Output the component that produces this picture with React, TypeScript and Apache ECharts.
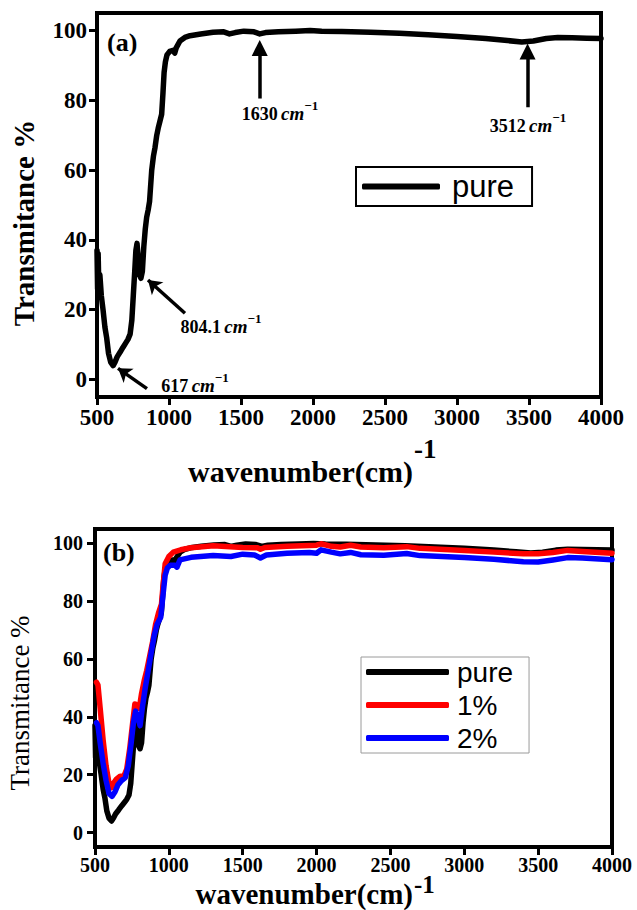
import React, { useEffect, useRef } from 'react';
import * as echarts from 'echarts';

const SERIF = 'Liberation Serif, Times New Roman, serif';
const SANS = 'Liberation Sans, Arial, sans-serif';

const X_MIN = 500;
const X_MAX = 4000;
const X_STEP = 500;
const Y_MIN = -5;
const Y_MAX = 105;
const Y_TICKS = [0, 20, 40, 60, 80, 100];

const seriesNames = ['pure', '1%', '2%'];
const seriesColors = ['#000000', '#ff0000', '#0000ff'];

const pureData = [
  [500, 37], [504, 26], [508, 36], [512, 28], [520, 30], [530, 24], [542, 20], [555, 15], [567, 12],
  [580, 7.5], [595, 5], [612, 4], [625, 5], [640, 6.5], [660, 7.8], [680, 9.2], [700, 10.5], [715, 11.5],
  [730, 13], [742, 17], [752, 24], [762, 31], [770, 37], [778, 39], [786, 35], [795, 30], [805, 29],
  [815, 31], [825, 38], [835, 43], [845, 46.5], [855, 48.5], [865, 51], [880, 60], [892, 64], [903, 66.5],
  [915, 70], [925, 72], [937, 74], [949, 76], [958, 82], [966, 88], [975, 91], [986, 93], [1005, 94],
  [1028, 94.3], [1040, 93.5], [1050, 95], [1076, 97], [1110, 98], [1146, 98.5], [1220, 99], [1306, 99.5],
  [1380, 99.6], [1420, 99], [1460, 99.4], [1520, 99.8], [1590, 99.6], [1630, 99], [1670, 99.4],
  [1760, 99.6], [1880, 99.8], [1980, 100], [2060, 99.8], [2200, 99.7], [2400, 99.5], [2600, 99.2],
  [2800, 98.8], [3000, 98.3], [3200, 97.7], [3350, 97.1], [3450, 96.7], [3530, 97], [3620, 97.7],
  [3700, 98], [3800, 97.9], [3900, 97.8], [4000, 97.7],
];

const onePctData = [
  [510, 52], [520, 51], [535, 43], [555, 32], [575, 23], [595, 17], [610, 15.5], [625, 17], [645, 18.5],
  [670, 19.5], [695, 19.5], [715, 22], [735, 29], [755, 38], [770, 44.5], [785, 44], [800, 43], [815, 48],
  [835, 53], [850, 56], [870, 61], [890, 66], [910, 72], [930, 76], [950, 79], [960, 85], [975, 93],
  [1000, 95.5], [1030, 97], [1080, 97.8], [1150, 98.5], [1300, 99.2], [1500, 98.6], [1600, 98.5],
  [1620, 98], [1650, 98.6], [1800, 99], [2000, 99.4], [2030, 99.9], [2100, 99], [2160, 98.8],
  [2230, 99.4], [2300, 98.8], [2455, 98.5], [2610, 98.9], [2700, 98.3], [3000, 97.6], [3200, 97],
  [3400, 96.4], [3500, 96.4], [3600, 96.9], [3700, 97.6], [3800, 97.2], [4000, 96.6],
];

const twoPctData = [
  [510, 38], [520, 37], [535, 31], [555, 24], [575, 18], [595, 13.5], [615, 12.5], [635, 14], [655, 16.5],
  [680, 18], [705, 19], [725, 23], [745, 31], [760, 38], [775, 42], [790, 40], [805, 37], [820, 43],
  [840, 50], [860, 56], [880, 62], [900, 68], [920, 72], [945, 74.5], [960, 82], [975, 89], [990, 91.5],
  [1010, 92.5], [1040, 92.5], [1055, 91.8], [1075, 94.3], [1150, 95.2], [1300, 95.8], [1420, 95.5],
  [1500, 96.3], [1580, 96], [1620, 95], [1660, 96], [1800, 96.6], [1950, 96.9], [2000, 96.6],
  [2030, 97.8], [2100, 97], [2160, 96.4], [2230, 96.9], [2300, 96.1], [2455, 95.9], [2610, 96.5],
  [2700, 95.8], [3000, 95.1], [3200, 94.5], [3400, 93.7], [3500, 93.6], [3600, 94.3], [3700, 95.1],
  [3800, 95], [4000, 94.4],
];

// annotation arrows (data coordinates): from tail to head
const arrowTails = [[1630, 80.5], [3490, 78], [1111, 19], [847, -2.6]];
const arrowHeads = [[1630, 95], [3490, 94], [854, 28.5], [646, 3.2]];
const arrowSymbols = ['triangle', 'triangle', 'arrow', 'arrow'];
const arrowSizes = [16, 16, 13, 13];

// peak labels
const peakNumbers = ['1630', '3512', '804.1', '617'];
const peakLabelAt = [[1771, 77], [3493, 73.6], [1361, 16], [1181, -1.1]];

function xAxisCfg(gridIndex: number, fontSize: number, margin: number) {
  return {
    type: 'value',
    gridIndex,
    min: X_MIN,
    max: X_MAX,
    interval: X_STEP,
    axisLine: { show: true, onZero: false, lineStyle: { color: '#000', width: 4 } },
    axisTick: { show: true, inside: false, length: 8, lineStyle: { color: '#000', width: 3 } },
    axisLabel: {
      show: true, color: '#000', fontFamily: SERIF, fontWeight: 'bold', fontSize, margin,
      showMinLabel: true, showMaxLabel: true, formatter: (v: number) => String(v),
    },
    splitLine: { show: false },
    minorTick: { show: false },
  };
}

function yAxisCfg(gridIndex: number, fontSize: number, margin: number) {
  return {
    type: 'value',
    gridIndex,
    min: Y_MIN,
    max: Y_MAX,
    axisLine: { show: true, onZero: false, lineStyle: { color: '#000', width: 4 } },
    axisTick: { show: true, inside: false, length: 8, customValues: Y_TICKS, lineStyle: { color: '#000', width: 3 } },
    axisLabel: {
      show: true, color: '#000', fontFamily: SERIF, fontWeight: 'bold', fontSize, margin,
      customValues: Y_TICKS, formatter: (v: number) => String(v),
    },
    splitLine: { show: false },
  };
}

const peakRich = {
  n: { fontFamily: SERIF, fontWeight: 'bold', fontSize: 18, lineHeight: 24, color: '#000', verticalAlign: 'bottom' },
  i: { fontFamily: SERIF, fontStyle: 'italic', fontWeight: 'bold', fontSize: 19, lineHeight: 24, color: '#000', verticalAlign: 'bottom' },
  s: { fontFamily: SERIF, fontWeight: 'bold', fontSize: 13, lineHeight: 10, color: '#000', verticalAlign: 'top' },
};

export default function App() {
  const ref = useRef<HTMLDivElement>(null);

  useEffect(() => {
    if (!ref.current) return;
    const chart = echarts.init(ref.current, null, { renderer: 'svg' });

    const lineSeries = (name: string, data: number[][], color: string, gi: number, extra: any = {}) => ({
      type: 'line',
      name,
      xAxisIndex: gi,
      yAxisIndex: gi,
      data,
      symbol: 'none',
      showSymbol: false,
      smooth: false,
      lineStyle: { color, width: 5.5, join: 'round', cap: 'round' },
      itemStyle: { color },
      emphasis: { disabled: true },
      z: 3,
      ...extra,
    });

    const markLine = {
      silent: true,
      animation: false,
      label: { show: false },
      lineStyle: { color: '#000', width: 3.5, type: 'solid' },
      data: arrowTails.map((t, k) => [
        { coord: t, symbol: 'none' },
        { coord: arrowHeads[k], symbol: arrowSymbols[k], symbolSize: arrowSizes[k] },
      ]),
    };

    const markPoint = {
      silent: true,
      animation: false,
      symbol: 'circle',
      symbolSize: 0,
      itemStyle: { color: 'transparent' },
      data: peakNumbers.map((n, k) => ({
        coord: peakLabelAt[k],
        label: {
          show: true,
          position: 'inside',
          formatter: `{n|${n}} {i|cm}{s|\u22121}`,
          rich: peakRich,
        },
      })),
    };

    const titleText = (x: number, y: number, supY: number, size: number, supSize: number) => [
      { type: 'text', x, y, style: { text: 'wavenumber(cm)', fontFamily: SERIF, fontWeight: 'bold', fontSize: size, fill: '#000', align: 'right', verticalAlign: 'middle' } },
      { type: 'text', x: x + 1, y: supY, style: { text: '-1', fontFamily: SERIF, fontWeight: 'bold', fontSize: supSize, fill: '#000', align: 'left', verticalAlign: 'middle' } },
    ];

    const option: any = {
      animation: false,
      backgroundColor: '#ffffff',
      grid: [
        { left: 97, top: 13, width: 504, height: 384, show: true, borderColor: '#000', borderWidth: 4, outerBoundsMode: 'none', containLabel: false },
        { left: 95, top: 529, width: 517, height: 318, show: true, borderColor: '#000', borderWidth: 4, outerBoundsMode: 'none', containLabel: false },
      ],
      xAxis: [xAxisCfg(0, 23, 9), xAxisCfg(1, 20, 8)],
      yAxis: [yAxisCfg(0, 23, 10), yAxisCfg(1, 20, 12)],
      legend: [
        {
          data: [{ name: seriesNames[0], icon: 'roundRect' }],
          left: 356,
          top: 167,
          orient: 'horizontal',
          itemWidth: 78,
          itemHeight: 6,
          padding: [4, 18, 4, 6],
          borderColor: '#000',
          borderWidth: 2,
          backgroundColor: '#fff',
          selectedMode: false,
          textStyle: { fontFamily: SANS, fontSize: 31, color: '#000', padding: [0, 0, 0, 7] },
        },
        {
          data: seriesNames.map((n) => ({ name: n, icon: 'roundRect' })),
          left: 361,
          top: 657,
          orient: 'vertical',
          itemWidth: 83,
          itemHeight: 6,
          itemGap: 5,
          padding: [1, 16, 1, 5],
          borderColor: '#9a9a9a',
          borderWidth: 1,
          backgroundColor: '#fff',
          selectedMode: false,
          textStyle: { fontFamily: SANS, fontSize: 28, color: '#000', padding: [0, 0, 0, 3] },
        },
      ],
      graphic: [
        { type: 'text', x: 24, y: 223, rotation: Math.PI / 2, style: { text: 'Transmitance %', fontFamily: SERIF, fontWeight: 'bold', fontSize: 29, fill: '#000', align: 'center', verticalAlign: 'middle' } },
        { type: 'text', x: 20, y: 703, rotation: Math.PI / 2, style: { text: 'Transmitance %', fontFamily: SERIF, fontWeight: 'normal', fontSize: 27, fill: '#000', align: 'center', verticalAlign: 'middle' } },
        ...titleText(413, 471, 449, 30, 27),
        ...titleText(413, 894, 884, 29, 25),
        { type: 'text', x: 107, y: 42, style: { text: '(a)', fontFamily: SERIF, fontWeight: 'bold', fontSize: 26, fill: '#000', align: 'left', verticalAlign: 'middle' } },
        { type: 'text', x: 103, y: 552, style: { text: '(b)', fontFamily: SERIF, fontWeight: 'bold', fontSize: 26, fill: '#000', align: 'left', verticalAlign: 'middle' } },
      ],
      series: [
        lineSeries(seriesNames[0], pureData, seriesColors[0], 0, { markLine, markPoint }),
        lineSeries(seriesNames[0], pureData, seriesColors[0], 1),
        lineSeries(seriesNames[1], onePctData, seriesColors[1], 1),
        lineSeries(seriesNames[2], twoPctData, seriesColors[2], 1),
      ],
    };

    chart.setOption(option);
    return () => chart.dispose();
  }, []);

  return (
    <div
      ref={ref}
      style={{ position: 'absolute', left: 0, top: 0, width: 637, height: 910, background: '#fff' }}
    />
  );
}
